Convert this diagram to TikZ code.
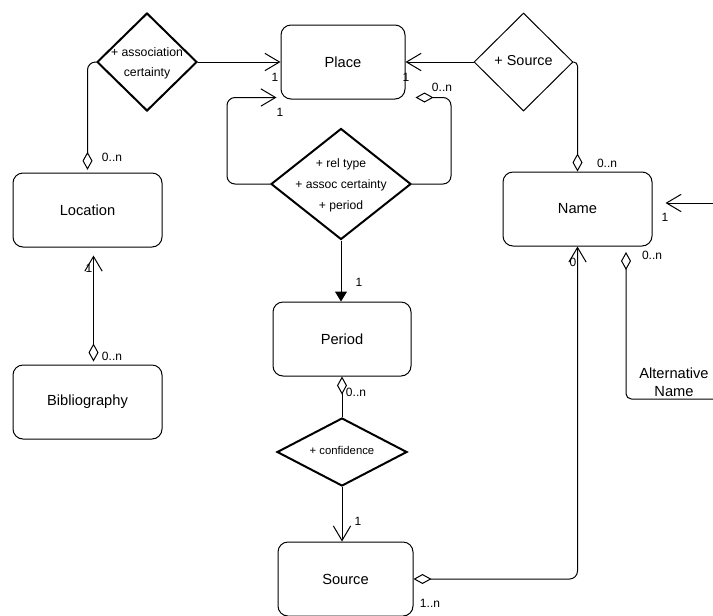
\documentclass[tikz,border=0pt]{standalone}
\usepackage{fontspec}
\setmainfont{Liberation Sans}
\usetikzlibrary{shapes.geometric,arrows.meta}
\newcommand\zbox[1]{\makebox[0pt]{\begin{tabular}{@{}c@{}}#1\end{tabular}}}
\tikzset{
  agg/.tip={Diamond[open,length=13.5pt,width=7.5pt]},
  >={Straight Barb[length=11pt,width=13pt]},
}
\begin{document}
\begin{tikzpicture}[x=0.75pt,y=-0.75pt,
  box/.style={draw, rounded corners=7.5pt, line width=0.75pt, minimum height=55.5pt,
              font=\fontsize{11}{13}\selectfont, inner sep=0pt},
  rel/.style={draw, diamond, inner sep=0pt, line width=1.5pt},
  lbl/.style={font=\fontsize{9}{11}\selectfont, inner sep=0pt},
  conn/.style={line width=0.75pt, line join=round},
]
\useasboundingbox (0,0) rectangle (713,615);

% boxes
\node[box, minimum width=93pt] (place) at (343,62) {Place};
\node[box, minimum width=111.75pt] (location) at (87.5,210) {Location};
\node[box, minimum width=111.75pt] (biblio) at (87.5,402) {Bibliography};
\node[box, minimum width=103.5pt] (period) at (342,339) {Period};
\node[box, minimum width=101.25pt] (source) at (345.5,579) {Source};
\node[box, minimum width=111.75pt] (name) at (577.5,209) {Name};

% relation diamonds
\node[rel, minimum width=75pt, minimum height=73.5pt, font=\fontsize{9.2}{15}\selectfont]
  (d1) at (147,62) {\zbox{+ association\\certainty}};
\node[rel, line width=0.75pt, minimum width=74.25pt, minimum height=73.5pt, font=\fontsize{10.8}{13}\selectfont]
  (dsrc) at (523.5,62) {\zbox{+ Source}};
\node[rel, minimum width=105pt, minimum height=83.25pt, font=\fontsize{9.1}{15.8}\selectfont]
  (dm) at (341,184) {\zbox{+ rel type\\+ assoc certainty\\+ period}};
\node[rel, minimum width=97.5pt, minimum height=51pt, font=\fontsize{8.5}{10}\selectfont]
  (dc) at (342,452) {\zbox{+ confidence}};

\node[font=\fontsize{11}{13.5}\selectfont, align=center, inner sep=0pt] (alt) at (674,382) {Alternative\\Name};

% connectors
\draw[conn,->] (d1.east) -- (place.west);
\draw[conn,{agg}-, rounded corners=6pt] ([yshift=2pt]location.north) |- (d1.west);
\draw[conn,->] (dsrc.west) -- (place.east);
\draw[conn,{agg}-, rounded corners=3pt] (name.north) |- (dsrc.east);
\draw[conn,->, rounded corners=6pt] (dm.west) -- ++(-43,0) |- ([xshift=-3pt,yshift=1.5pt]place.south west);
\draw[conn,{agg}-, rounded corners=6pt] ([xshift=7.5pt,yshift=1.5pt]place.south east) -| ([xshift=29.25pt]dm.east) -- (dm.east);
\draw[conn,-{Triangle[length=7.5pt,width=9pt]}] (dm.south) -- (dm.south |- period.north);
\draw[conn,{agg}-] (period.south) -- (dc.north);
\draw[conn,->] (dc.south) -- (dc.south |- source.north);
\draw[conn,{agg}->, rounded corners=6pt] (source.east) -| (name.south);
\coordinate (rin) at (713,203);
\draw[conn,->] (rin) -- ([xshift=9.75pt,yshift=4.5pt]name.east);
\coordinate (altTop) at (626,252);
\coordinate (altEnd) at (713,399);
\draw[conn,{agg}-, rounded corners=4pt] (altTop) |- (altEnd);
\draw[conn,{agg}->] ([xshift=4.5pt,yshift=2.25pt]biblio.north) -- ([xshift=4.5pt,yshift=-6pt]location.south);

% multiplicity labels
\node[lbl] (m1) at (112,157) {0..n};
\node[lbl] (m2) at (275,77) {1};
\node[lbl] (m3) at (280,112) {1};
\node[lbl] (m4) at (406,77) {1};
\node[lbl] (m5) at (442,87) {0..n};
\node[lbl] (m6) at (607,163) {0..n};
\node[lbl] (m7) at (665,217) {1};
\node[lbl] (m8) at (573,262) {0};
\node[lbl] (m9) at (652,255) {0..n};
\node[lbl] (m10) at (359,282) {1};
\node[lbl] (m11) at (356,392) {0..n};
\node[lbl] (m12) at (358,521) {1};
\node[lbl] (m13) at (430,603) {1..n};
\node[lbl] (m14) at (89,268) {1};
\node[lbl] (m15) at (112,356) {0..n};
\end{tikzpicture}
\end{document}
